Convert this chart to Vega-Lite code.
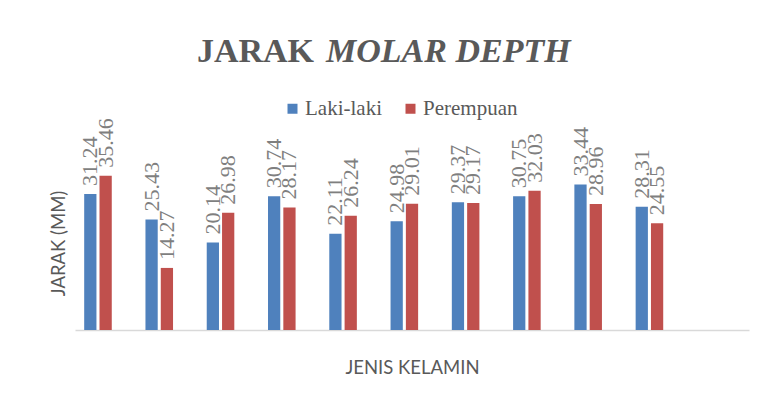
{
  "$schema": "https://vega.github.io/schema/vega-lite/v6.json",
  "width": 674,
  "height": 174,
  "autosize": {"type": "none"},
  "padding": {"left": 75, "top": 156, "right": 18, "bottom": 75},
  "background": "white",
  "title": {
    "text": "JARAK",
    "subtitle": "MOLAR DEPTH",
    "frame": "group",
    "anchor": "middle",
    "align": "left",
    "dx": -86,
    "offset": 29,
    "font": "Liberation Serif",
    "fontSize": 34,
    "fontWeight": "bold",
    "color": "#595959",
    "subtitleFont": "Liberation Serif",
    "subtitleFontSize": 34,
    "subtitleFontWeight": "bold",
    "subtitleFontStyle": "italic",
    "subtitleColor": "#595959",
    "subtitlePadding": -34,
    "encoding": {"align": {"value": "right"}, "dx": {"value": -98}}
  },
  "data": {
    "values": [
      {"kelompok": "1", "jenis": "Laki-laki", "jarak": 31.24},
      {"kelompok": "1", "jenis": "Perempuan", "jarak": 35.46},
      {"kelompok": "2", "jenis": "Laki-laki", "jarak": 25.43},
      {"kelompok": "2", "jenis": "Perempuan", "jarak": 14.27},
      {"kelompok": "3", "jenis": "Laki-laki", "jarak": 20.14},
      {"kelompok": "3", "jenis": "Perempuan", "jarak": 26.98},
      {"kelompok": "4", "jenis": "Laki-laki", "jarak": 30.74},
      {"kelompok": "4", "jenis": "Perempuan", "jarak": 28.17},
      {"kelompok": "5", "jenis": "Laki-laki", "jarak": 22.11},
      {"kelompok": "5", "jenis": "Perempuan", "jarak": 26.24},
      {"kelompok": "6", "jenis": "Laki-laki", "jarak": 24.98},
      {"kelompok": "6", "jenis": "Perempuan", "jarak": 29.01},
      {"kelompok": "7", "jenis": "Laki-laki", "jarak": 29.37},
      {"kelompok": "7", "jenis": "Perempuan", "jarak": 29.17},
      {"kelompok": "8", "jenis": "Laki-laki", "jarak": 30.75},
      {"kelompok": "8", "jenis": "Perempuan", "jarak": 32.03},
      {"kelompok": "9", "jenis": "Laki-laki", "jarak": 33.44},
      {"kelompok": "9", "jenis": "Perempuan", "jarak": 28.96},
      {"kelompok": "10", "jenis": "Laki-laki", "jarak": 28.31},
      {"kelompok": "10", "jenis": "Perempuan", "jarak": 24.55}
    ]
  },
  "encoding": {
    "x": {
      "field": "kelompok",
      "type": "nominal",
      "sort": null,
      "scale": {
        "domain": ["1", "2", "3", "4", "5", "6", "7", "8", "9", "10", "11"],
        "paddingInner": 0.3,
        "paddingOuter": 0.15
      },
      "axis": {
        "labels": false,
        "ticks": false,
        "grid": false,
        "domain": true,
        "domainColor": "#d9d9d9",
        "domainWidth": 1.5,
        "title": "JENIS KELAMIN",
        "titleFont": "Lato",
        "titleFontSize": 18.5,
        "titleFontWeight": "normal",
        "titleColor": "#595959",
        "titlePadding": 28
      }
    },
    "xOffset": {
      "field": "jenis",
      "type": "nominal",
      "scale": {
        "domain": ["Laki-laki", "Perempuan", "(kosong)"],
        "paddingInner": 0.2,
        "paddingOuter": 0
      }
    },
    "y": {
      "field": "jarak",
      "type": "quantitative",
      "scale": {"domain": [0, 40], "nice": false},
      "axis": {
        "labels": false,
        "ticks": false,
        "grid": false,
        "domain": false,
        "title": "JARAK (MM)",
        "titleFont": "Lato",
        "titleFontSize": 18.5,
        "titleFontWeight": "normal",
        "titleColor": "#595959",
        "titlePadding": 7
      }
    }
  },
  "layer": [
    {
      "mark": {"type": "bar"},
      "encoding": {
        "color": {
          "field": "jenis",
          "type": "nominal",
          "scale": {
            "domain": ["Laki-laki", "Perempuan"],
            "range": ["#4F81BD", "#C0504D"]
          },
          "legend": {
            "orient": "none",
            "legendX": 207,
            "legendY": -58,
            "direction": "horizontal",
            "title": null,
            "symbolType": "square",
            "symbolSize": 100,
            "symbolStrokeWidth": 0,
            "labelFont": "Liberation Serif",
            "labelFontSize": 21,
            "labelColor": "#595959",
            "labelOffset": 2,
            "columnPadding": 18
          }
        }
      }
    },
    {
      "mark": {
        "type": "text",
        "angle": 270,
        "align": "left",
        "baseline": "middle",
        "dx": 8,
        "font": "Liberation Serif",
        "fontSize": 22,
        "color": "#7f7f7f"
      },
      "encoding": {
        "text": {"field": "jarak", "type": "quantitative", "format": ".2f"}
      }
    }
  ],
  "config": {"view": {"stroke": null}}
}
